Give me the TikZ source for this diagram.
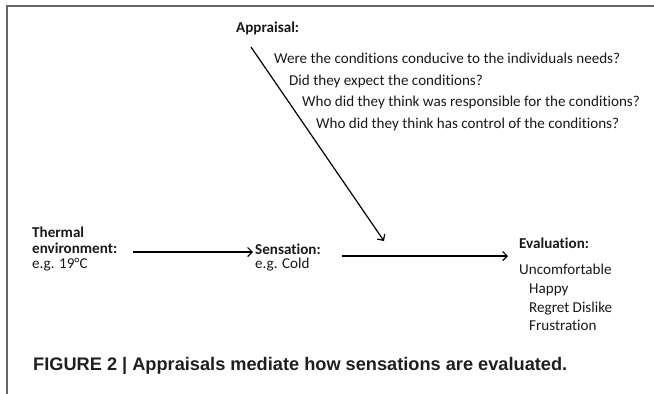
\documentclass[tikz,border=0pt]{standalone}
\usepackage{fontspec}
\setmainfont{Carlito}[Ligatures=NoCommon]
\newfontfamily\capfont{Liberation Sans}
\usetikzlibrary{arrows.meta}
\begin{document}
\begin{tikzpicture}[x=1pt,y=-1pt,
  txt/.style={anchor=base west, inner sep=0pt, text=black!90, font=\fontsize{15.1}{17}\selectfont},
  btxt/.style={txt, font=\fontsize{15.1}{17}\selectfont\bfseries},
  captxt/.style={anchor=base west, inner sep=0pt, text=black!88, font=\fontsize{18.2}{21}\selectfont\capfont\bfseries},
  frame/.style={draw=black!60, line width=1.6pt},
  arr/.style={draw=black, line width=1.2pt, -{Straight Barb[length=4.5pt,width=9pt,line width=1.2pt]}}]
\useasboundingbox (0,0) rectangle (654,394);
% frame
\draw[frame] (7,394) -- (7,6) -- (654,6);
% appraisal
\node[btxt] (appr) at (236,32) {Appraisal:};
\node[txt] (q1) at (274,63) {Were the conditions conducive to the individuals needs?};
\node[txt] (q2) at (289,85) {Did they expect the conditions?};
\node[txt] (q3) at (302,106) {Who did they think was responsible for the conditions?};
\node[txt] (q4) at (316,128) {Who did they think has control of the conditions?};
% thermal
\node[btxt] (th1) at (32,237) {Thermal};
\node[btxt] (th2) at (32,253) {environment:};
\node[txt] (th3) at (32,268) {e.g. 19°C};
% sensation
\node[btxt] (se1) at (255,254) {Sensation:};
\node[txt] (se2) at (255,268) {e.g. Cold};
% evaluation
\node[btxt] (ev1) at (519,248) {Evaluation:};
\node[txt] (ev2) at (519,274) {Uncomfortable};
\node[txt] (ev3) at (529,293) {Happy};
\node[txt] (ev4) at (529,312) {Regret Dislike};
\node[txt] (ev5) at (529,330) {Frustration};
% caption
\node[captxt] (cap) at (33,370) {FIGURE 2 | Appraisals mediate how sensations are evaluated.};
% connectors
\coordinate (a1s) at (133,252);
\coordinate (a1e) at (253,252);
\coordinate (a2s) at (342,256);
\coordinate (a2e) at (508,256);
\coordinate (a3s) at (251,47);
\coordinate (a3e) at (384,241);
\draw[arr] (a1s) -- (a1e);
\draw[arr] (a2s) -- (a2e);
\draw[arr] (a3s) -- (a3e);
\end{tikzpicture}
\end{document}
